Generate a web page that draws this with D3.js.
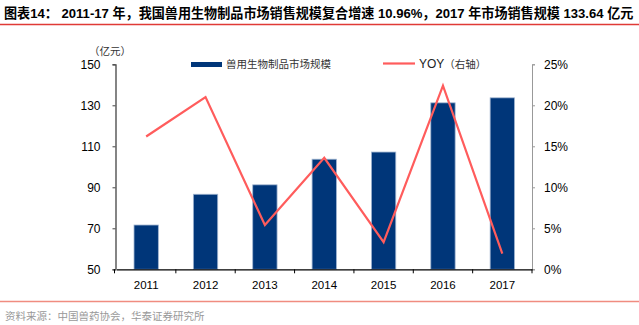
<!DOCTYPE html>
<html><head><meta charset="utf-8">
<script src="https://cdn.jsdelivr.net/npm/d3@7/dist/d3.min.js"></script>
<style>body{margin:0;background:#fff}svg{display:block}</style>
</head><body><svg id="c" width="639" height="325"></svg>
<script>
const categories = ["2011","2012","2013","2014","2015","2016","2017"];
const marketSize = [71.6, 86.6, 91.2, 103.7, 107.2, 131.2, 133.64];
const yoy = [16.2, 21.0, 5.4, 13.6, 3.3, 22.4, 1.9];
const leftTicks = [50, 70, 90, 110, 130, 150];
const rightTicks = [0, 5, 10, 15, 20, 25];
const seriesNames = ["兽用生物制品市场规模", "YOY（右轴）"];
const titleText = "图表14：  2011-17 年，我国兽用生物制品市场销售规模复合增速 10.96%，2017 年市场销售规模 133.64 亿元";
const sourceText = "资料来源：中国兽药协会，华泰证券研究所";
const unitText = "（亿元）";

const svg = d3.select("#c");
const FONT = "'Liberation Sans', Arial, sans-serif";
const CJK = "'Noto Sans CJK SC', sans-serif";
const m = {l:116.5, r:532, t:64.3, b:269.3};

svg.append("text").attr("x",4).attr("y",18).attr("font-family",FONT+","+CJK)
  .attr("font-weight","bold").attr("font-size",13.1).attr("fill","#000").text(titleText);
svg.append("line").attr("x1",0).attr("x2",639).attr("y1",24.5).attr("y2",24.5)
  .attr("stroke","#e03a36").attr("stroke-width",1.3);
svg.append("line").attr("x1",0).attr("x2",639).attr("y1",301.5).attr("y2",301.5)
  .attr("stroke","#f08c80").attr("stroke-width",1.3);
svg.append("text").attr("x",5).attr("y",320).attr("font-family",CJK)
  .attr("font-size",10.5).attr("fill","#999").text(sourceText);

const x = d3.scaleBand().domain(categories).range([m.l, m.r]).paddingInner(0.59).paddingOuter(0.295);
const xb = d3.scaleBand().domain(categories).range([m.l, m.r]);
const yL = d3.scaleLinear().domain([50,150]).range([m.b, m.t]);
const yR = d3.scaleLinear().domain([0,25]).range([m.b, m.t]);

// bars
svg.append("g").selectAll("rect").data(marketSize).join("rect")
  .attr("x",(d,i)=>x(categories[i])).attr("width",x.bandwidth())
  .attr("y",d=>yL(d)).attr("height",d=>yL(50)-yL(d))
  .attr("fill","#003679").attr("stroke","#9fb4d0").attr("stroke-width",0.8);

// left axis
const gl = svg.append("g").attr("transform",`translate(${m.l-1},0)`)
  .call(d3.axisLeft(yL).tickValues(leftTicks).tickSize(3).tickPadding(12));
gl.select(".domain").attr("stroke","#444").attr("stroke-width",1.3);
gl.selectAll(".tick line").attr("stroke","#444");
gl.selectAll("text").attr("font-family",FONT).attr("font-size",12).attr("fill","#000");

// right axis
const gr = svg.append("g").attr("transform",`translate(${m.r},0)`)
  .call(d3.axisRight(yR).tickValues(rightTicks).tickSize(3).tickPadding(9).tickFormat(d=>d+"%"));
gr.select(".domain").attr("stroke","#999").attr("stroke-width",1);
gr.selectAll(".tick line").attr("stroke","#999");
gr.selectAll("text").attr("font-family",FONT).attr("font-size",12).attr("fill","#000");

// bottom axis
const gb = svg.append("g").attr("transform",`translate(0,${m.b})`)
  .call(d3.axisBottom(xb).tickSize(0).tickPadding(12));
gb.select(".domain").attr("stroke","#000").attr("stroke-width",1.2);
gb.selectAll("text").attr("font-family",FONT).attr("font-size",11.5).attr("fill","#000");
svg.append("g").selectAll("line").data(categories.slice(1).concat(["end"])).join("line")
  .attr("x1",(d,i)=> i<categories.length-1 ? xb(d) : m.r).attr("x2",(d,i)=> i<categories.length-1 ? xb(d) : m.r)
  .attr("y1",m.b).attr("y2",m.b+4).attr("stroke","#000");
svg.append("line").attr("x1",m.l-2).attr("x2",m.l-2).attr("y1",m.b).attr("y2",m.b+4).attr("stroke","#000");

// line
const line = d3.line().x((d,i)=>xb(categories[i])+xb.bandwidth()/2).y(d=>yR(d));
svg.append("path").datum(yoy).attr("d",line).attr("fill","none")
  .attr("stroke","#ff5c5c").attr("stroke-width",2.2).attr("stroke-linejoin","miter");

// unit
svg.append("text").attr("x",89).attr("y",55).attr("font-family",CJK).attr("font-size",10.5)
  .attr("fill","#333").text(unitText);

// legend
svg.append("rect").attr("x",191).attr("y",62).attr("width",31).attr("height",5).attr("fill","#003679");
svg.append("text").attr("x",226).attr("y",68).attr("font-family",CJK).attr("font-size",10.5)
  .attr("fill","#333").text(seriesNames[0]);
svg.append("line").attr("x1",383).attr("x2",415).attr("y1",63.5).attr("y2",63.5)
  .attr("stroke","#ff5c5c").attr("stroke-width",2.2);
const lt = svg.append("text").attr("x",419).attr("y",68).attr("font-size",12).attr("fill","#222");
lt.append("tspan").attr("font-family",FONT).text("YOY");
lt.append("tspan").attr("font-family",CJK).attr("font-size",10.5).attr("fill","#333").text("（右轴）");
</script></body></html>
